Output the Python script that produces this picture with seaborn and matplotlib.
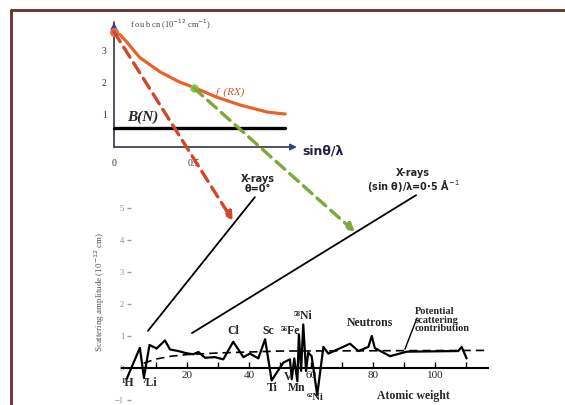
import numpy as np
import matplotlib
matplotlib.use('Agg')
import matplotlib.pyplot as plt
import seaborn as sns
from matplotlib.patches import ConnectionPatch
from matplotlib.lines import Line2D

sns.set_theme(style='white')
plt.rcParams['font.family'] = ['Liberation Serif', 'DejaVu Serif']

# top sketch: form factor of X-rays vs neutron scattering length
sin_lam = [0, 0.04, 0.08, 0.16, 0.29, 0.41, 0.51, 0.64, 0.79, 0.96, 1.07]
f_rx = [3.6, 3.5, 3.28, 2.8, 2.34, 2.03, 1.84, 1.56, 1.31, 1.09, 1.03]
b_n_x = [0, 1.07]
b_n = [0.6, 0.6]
top_yticks = [1, 2, 3]
top_xticks = [0, 0.5]
top_xlabels = ['0', '0.5']

# bottom chart: neutron scattering amplitude vs atomic weight
atomic_weight = [0.5, 4.8, 6.1, 7.9, 10.2, 12.9, 14.5, 17.2, 19.9, 22, 23.7, 25.8, 29,
                 31.7, 34.9, 38.2, 40.3, 43, 45.2, 47.3, 48.9, 51.1, 53.2, 53.8, 54.6,
                 55.6, 56.1, 56.8, 57.5, 58.4, 59.1, 60.2, 62, 64, 65.6, 72.6, 75.3,
                 78.5, 79.6, 80.6, 85.5, 90.9, 107.5, 108.6, 110.2]
amplitude = [-0.35, 0.63, -0.3, 0.72, 0.61, 0.86, 0.58, 0.53, 0.46, 0.43, 0.5, 0.32, 0.34,
             0.27, 0.82, 0.34, 0.45, 0.30, 0.9, -0.39, -0.15, 0.17, 0.27, -0.35, 0.30,
             -0.41, 1.05, -0.09, 1.36, -0.09, 0.48, 0.37, -0.84, 0.66, 0.45, 0.76, 0.53,
             0.66, 1.0, 0.62, 0.37, 0.51, 0.53, 0.66, 0.30]
pot_weight = [6, 10, 15, 20, 30, 40, 50, 117]
pot_amp = [0.15, 0.28, 0.37, 0.42, 0.47, 0.5, 0.53, 0.55]
bot_xticks = [10, 20, 30, 40, 50, 60, 70, 80, 90, 100, 110]
bot_xlabels = ['', '20', '', '40', '', '60', '', '80', '', '100', '']
bot_yticks = [-1, 0, 1, 2, 3, 4, 5]

fig = plt.figure(figsize=(5.65, 4.05), dpi=100)
fig.patch.set_facecolor('white')

# frame
border = '#6a2d2d'
fig.add_artist(Line2D([11 / 565, 1], [1 - 10 / 405, 1 - 10 / 405], color=border, lw=2))
fig.add_artist(Line2D([11 / 565, 11 / 565], [0, 1 - 10 / 405], color=border, lw=2))

# ---- top axes ----
ax1 = fig.add_axes([100 / 565, 245 / 405, 220 / 565, 145 / 405])
ax1.set_xlim(-0.0875, 1.2875)
ax1.set_ylim(-0.406, 4.125)
ax1.axis('off')
ax1.patch.set_alpha(0)

navy = '#34408f'
ax1.plot([0, 1.12], [0, 0], color='#333344', lw=1.2)
ax1.plot([0, 0], [0, 3.9], color='#333344', lw=1.2)
ax1.annotate('', xy=(1.16, 0), xytext=(1.08, 0),
             arrowprops=dict(arrowstyle='-|>', color=navy, lw=1, mutation_scale=10))
ax1.annotate('', xy=(0, 3.98), xytext=(0, 3.7),
             arrowprops=dict(arrowstyle='-|>', color=navy, lw=1, mutation_scale=10))

sns.lineplot(x=b_n_x, y=b_n, ax=ax1, color='black', lw=2.4)
sns.lineplot(x=sin_lam, y=f_rx, ax=ax1, color='#e8632b', lw=2.3, sort=False, estimator=None)
ax1.scatter([sin_lam[0]], [f_rx[0]], s=30, color='#e07050', zorder=5)
ax1.scatter([0.5], [1.84], s=25, color='#8cc63f', zorder=5)

for v in top_yticks:
    ax1.text(-0.06, v, str(v), ha='center', va='center', fontsize=7, color='#333333')
for v, lab in zip(top_xticks, top_xlabels):
    ax1.text(v, -0.5, lab, ha='center', va='center', fontsize=7, color='#333333')

ax1.text(0.1, 3.82, 'f ou b cn (10$^{-12}$ cm$^{-1}$)', fontsize=6, color='#444444',
         va='center', ha='left')
ax1.text(1.18, -0.12, 'sinθ/λ', fontsize=9, fontweight='bold', color='#222244',
         va='center', ha='left', family=['DejaVu Sans'])
ax1.text(0.08, 0.92, 'B(N)', fontsize=11, fontweight='bold', fontstyle='italic',
         va='center', ha='left')
ax1.text(0.63, 1.72, 'ƒ (RX)', fontsize=8, fontstyle='italic', color='#c85a2a',
         va='center', ha='left')

# ---- bottom axes ----
ax2 = fig.add_axes([95 / 565, 0, 405 / 565, 210 / 405])
ax2.patch.set_alpha(0)
ax2.set_xlim(-9.677, 120.97)
ax2.set_ylim(-1.156, 5.406)
for s in ['top', 'right']:
    ax2.spines[s].set_visible(False)
ax2.spines['bottom'].set_position(('data', 0))
ax2.spines['bottom'].set_bounds(-1, 117)
ax2.spines['bottom'].set_color('black')
ax2.spines['bottom'].set_linewidth(1.5)
ax2.spines['left'].set_position(('data', 0.6))
ax2.spines['left'].set_visible(False)

ax2.set_xticks(bot_xticks)
ax2.set_xticklabels(bot_xlabels)
ax2.set_yticks(bot_yticks)
ax2.tick_params(axis='x', direction='in', length=4, width=1, color='black',
                labelsize=8, pad=2, bottom=True)
ax2.tick_params(axis='y', direction='in', length=3, width=1, color='#999999',
                labelsize=6, labelcolor='#888888', pad=2, left=True)

sns.lineplot(x=pot_weight, y=pot_amp, ax=ax2, color='black', lw=1.2,
             linestyle=(0, (5, 3)), sort=False, estimator=None)
sns.lineplot(x=atomic_weight, y=amplitude, ax=ax2, color='black', lw=1.6,
             sort=False, estimator=None)

ax2.text(-8.06, 2.375, 'Scattering amplitude (10$^{-12}$ cm)', rotation=90, fontsize=6.5,
         color='#555555', ha='center', va='center')
ax2.text(92.9, -0.875, 'Atomic weight', fontsize=8.5, fontweight='bold', ha='center',
         va='center')

elem = [('¹H', 1, -0.47), ('⁷Li', 8, -0.47), ('Cl', 34.8, 1.16), ('Sc', 46.1, 1.16),
        ('⁵⁶Fe', 53.4, 1.16), ('⁵⁸Ni', 57.4, 1.62), ('Ti', 47.4, -0.62), ('V', 52.6, -0.28),
        ('Mn', 55.5, -0.62), ('Neutrons', 79, 1.41)]
for lab, x, y in elem:
    ax2.text(x, y, lab, fontsize=8.5, fontweight='bold', ha='center', va='center',
             clip_on=False)
ax2.text(61.3, -0.93, '⁶²Ni', fontsize=7.5, fontweight='bold', ha='center', va='center')
ax2.text(93.5, 1.5, 'Potential\nscattering\ncontribution', fontsize=7.5, ha='left',
         va='center', linespacing=0.9, fontweight='bold')
ax2.plot([90.3, 94.2], [0.59, 1.56], color='black', lw=1)

# pointer lines to X-ray labels
ax2.plot([7.4, 41.9], [1.16, 5.34], color='black', lw=1.3, clip_on=False)
ax2.plot([21.6, 93.9], [1.09, 5.4], color='black', lw=1.3, clip_on=False)
ax2.text(42.9, 5.75, 'X-rays\nθ=0°', fontsize=7, fontweight='bold', ha='center',
         va='center', linespacing=0.95, family=['DejaVu Sans'], clip_on=False)
ax2.text(92.9, 5.84, 'X-rays\n(sin θ)/λ=0·5 Å$^{-1}$', fontsize=7, fontweight='bold',
         ha='center', va='center', linespacing=0.95, family=['DejaVu Sans'], clip_on=False)

# dashed arrows from the top sketch into the bottom chart
for start, end, col in [((0, 3.6), (34.8, 4.6), '#d2462c'),
                        ((0.5, 1.84), (74.2, 4.25), '#7ea83a')]:
    con = ConnectionPatch(xyA=start, coordsA=ax1.transData, xyB=end, coordsB=ax2.transData,
                          arrowstyle='-|>', color=col, lw=2.4, linestyle=(0, (3.5, 2)),
                          mutation_scale=12, zorder=6)
    fig.add_artist(con)

fig.savefig('out.png', dpi=100)
